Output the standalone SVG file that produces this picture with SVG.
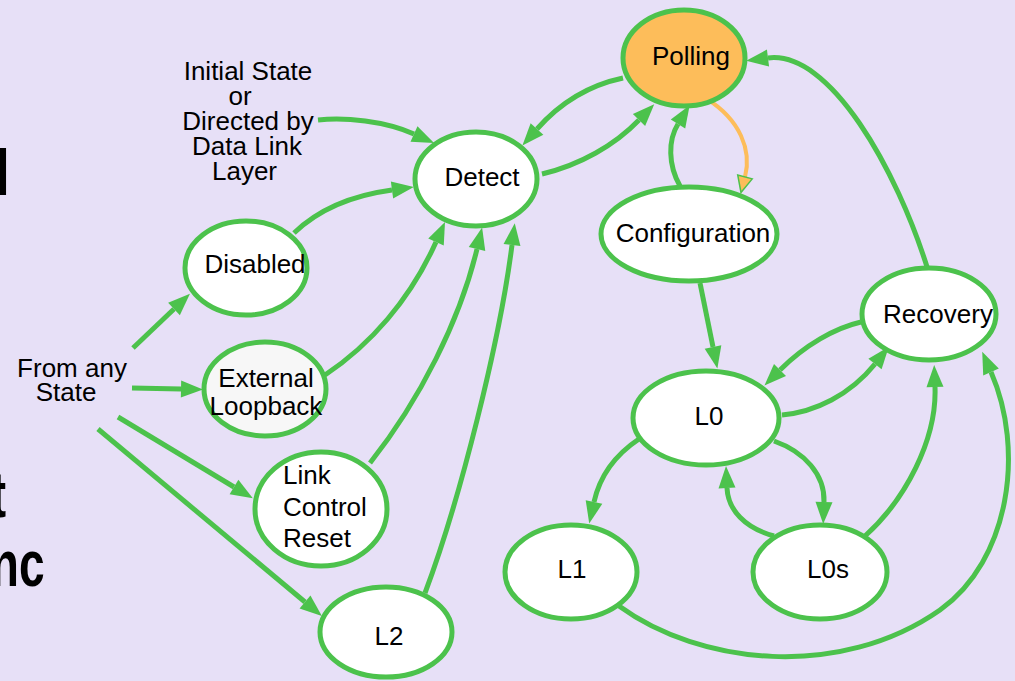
<svg xmlns="http://www.w3.org/2000/svg" width="1015" height="681" viewBox="0 0 1015 681">
  <style>
    .node ellipse { stroke: #4CC24C; stroke-width: 5; fill: #FFFFFF; }
    .lbl { font-family: "Liberation Sans", Arial, sans-serif; font-size: 26px; fill: #000000; }
    .mid { text-anchor: middle; }
    .edge { fill: none; stroke: #4CC24C; stroke-width: 5; marker-end: url(#arrow); }
    .slide { font-family: "Liberation Sans", Arial, sans-serif; font-size: 64px; font-weight: bold; fill: #000000; }
  </style>
  <defs>
    <marker id="arrow" markerUnits="userSpaceOnUse" markerWidth="22" markerHeight="17" refX="0" refY="8.5" orient="auto" overflow="visible">
      <path d="M0,0 L22,8.5 L0,17 z" fill="#4CC24C"/>
    </marker>
    <marker id="arrow-open" markerUnits="userSpaceOnUse" markerWidth="16" markerHeight="15" refX="0" refY="7.5" orient="auto" overflow="visible">
      <path d="M0,0 L16,7.5 L0,15 z" fill="#FDBD5A" stroke="#4CC24C" stroke-width="1.5"/>
    </marker>
  </defs>

  <rect x="0" y="0" width="1015" height="681" fill="#E7E0F7"/>

  <!-- bold slide lettering running off the left edge -->
  <g id="slide-text">
    <text class="slide" transform="scale(0.72,1)" x="-5" y="195">l</text>
    <text class="slide" transform="scale(0.72,1)" x="-13" y="517">t</text>
    <text class="slide" transform="scale(0.72,1)" x="-12.7" y="586">nc</text>
  </g>

  <!-- free-standing labels -->
  <g id="label-initial" class="lbl mid">
    <text x="248" y="80">Initial State</text>
    <text x="240" y="105">or</text>
    <text x="248" y="130">Directed by</text>
    <text x="247" y="155">Data Link</text>
    <text x="244.5" y="180">Layer</text>
  </g>
  <g id="label-any" class="lbl mid">
    <text x="72" y="377">From any</text>
    <text x="66" y="401">State</text>
  </g>

  <!-- transitions -->
  <g id="edges">
    <path class="edge" d="M318,120 C345,117 385,121 414,134"/>
    <path class="edge" d="M294,233 C320,208 355,195 392,190"/>
    <path class="edge" d="M325,375 C370,345 410,300 436,242"/>
    <path class="edge" d="M370,463 C420,400 460,320 477,249"/>
    <path class="edge" d="M425,593 C460,500 500,340 512,245"/>
    <path class="edge" d="M623,78 C590,85 560,103 537,129"/>
    <path class="edge" d="M542,174 C580,165 615,145 639,120"/>
    <path class="edge" d="M680,186 C668,165 668,140 678,124"/>
    <path d="M707,99 C740,120 752,150 745,177" fill="none" stroke="#FDBD5A" stroke-width="4" marker-end="url(#arrow-open)"/>
    <path class="edge" d="M928,270 C897,170 830,50 768,58"/>
    <path class="edge" d="M700,283 L713,347"/>
    <path class="edge" d="M861,322 C835,328 805,345 780,370"/>
    <path class="edge" d="M782,415 C815,412 850,395 875,364"/>
    <path class="edge" d="M639,439 C615,455 600,475 594,502"/>
    <path class="edge" d="M774,441 C805,452 825,475 824,502"/>
    <path class="edge" d="M774,536 C745,528 728,510 727,488"/>
    <path class="edge" d="M865,536 C905,500 937,440 935,387"/>
    <path class="edge" d="M619,606 C700,665 840,680 940,610 C1010,560 1025,450 991,372"/>
    <path class="edge" d="M133,348 L174,309"/>
    <path class="edge" d="M132,388 L181,389"/>
    <path class="edge" d="M118,417 L234,487"/>
    <path class="edge" d="M98,429 L305,602"/>
  </g>

  <!-- states -->
  <g id="node-polling" class="node">
    <ellipse cx="684" cy="58" rx="61" ry="48" style="fill:#FDBD5A"/>
    <text class="lbl mid" x="691" y="65">Polling</text>
  </g>
  <g id="node-detect" class="node">
    <ellipse cx="476" cy="179" rx="61" ry="47"/>
    <text class="lbl mid" x="482" y="186">Detect</text>
  </g>
  <g id="node-configuration" class="node">
    <ellipse cx="689" cy="234" rx="88" ry="47"/>
    <text class="lbl mid" x="693" y="242">Configuration</text>
  </g>
  <g id="node-disabled" class="node">
    <ellipse cx="246" cy="268" rx="61" ry="47"/>
    <text class="lbl mid" x="255" y="273">Disabled</text>
  </g>
  <g id="node-external-loopback" class="node">
    <ellipse cx="265" cy="389" rx="61" ry="47" style="fill:#F7F7F7"/>
    <text class="lbl mid" x="266" y="387">External</text>
    <text class="lbl mid" x="266" y="415">Loopback</text>
  </g>
  <g id="node-link-control-reset" class="node">
    <ellipse cx="321" cy="509" rx="66" ry="57"/>
    <text class="lbl" x="283" y="484">Link</text>
    <text class="lbl" x="283" y="516">Control</text>
    <text class="lbl" x="283" y="547">Reset</text>
  </g>
  <g id="node-l2" class="node">
    <ellipse cx="386" cy="632" rx="66" ry="45"/>
    <text class="lbl mid" x="389" y="645">L2</text>
  </g>
  <g id="node-recovery" class="node">
    <ellipse cx="929" cy="314" rx="67" ry="46"/>
    <text class="lbl mid" x="938" y="323">Recovery</text>
  </g>
  <g id="node-l0" class="node">
    <ellipse cx="706" cy="418" rx="73" ry="47"/>
    <text class="lbl mid" x="709" y="425">L0</text>
  </g>
  <g id="node-l1" class="node">
    <ellipse cx="571" cy="572" rx="66" ry="47"/>
    <text class="lbl mid" x="572" y="578">L1</text>
  </g>
  <g id="node-l0s" class="node">
    <ellipse cx="820" cy="572" rx="67" ry="47"/>
    <text class="lbl mid" x="828" y="578">L0s</text>
  </g>
</svg>
